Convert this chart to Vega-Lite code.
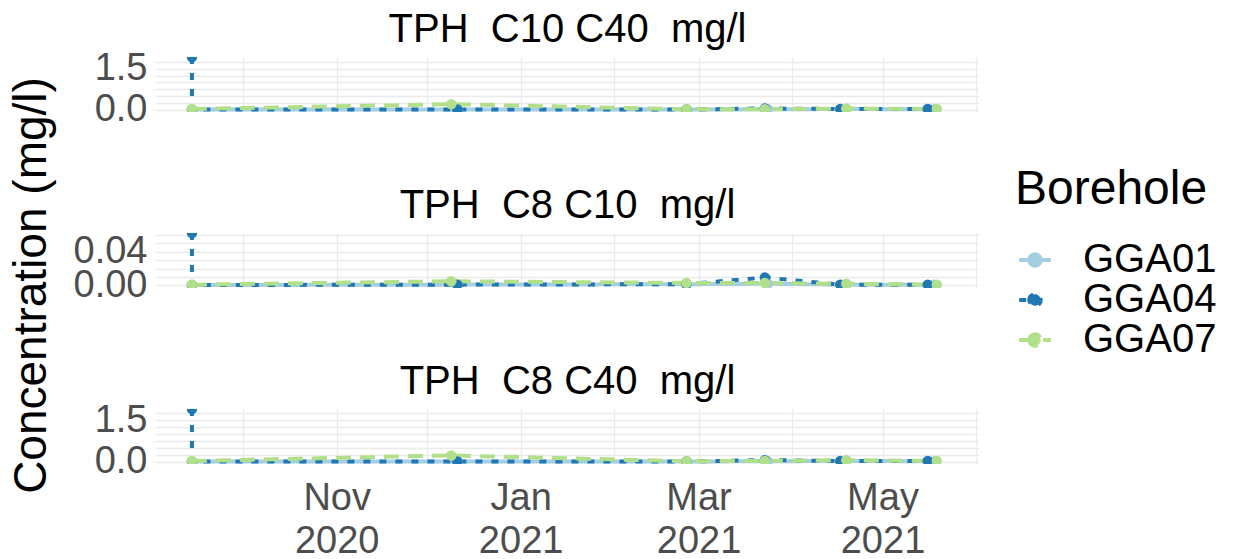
{
  "$schema": "https://vega.github.io/schema/vega-lite/v6.json",
  "padding": {"left": 7, "top": 9, "right": 0, "bottom": 0},
  "background": "white",
  "datasets": {
    "tph": [
      {"analyte": "TPH C10 C40 mg/l", "borehole": "GGA01", "date": "2020-09-14", "value": 0.0},
      {"analyte": "TPH C10 C40 mg/l", "borehole": "GGA01", "date": "2020-12-11", "value": 0.0},
      {"analyte": "TPH C10 C40 mg/l", "borehole": "GGA01", "date": "2021-02-25", "value": 0.0},
      {"analyte": "TPH C10 C40 mg/l", "borehole": "GGA01", "date": "2021-03-24", "value": 0.01},
      {"analyte": "TPH C10 C40 mg/l", "borehole": "GGA01", "date": "2021-04-19", "value": 0.02},
      {"analyte": "TPH C10 C40 mg/l", "borehole": "GGA01", "date": "2021-05-18", "value": 0.01},
      {"analyte": "TPH C10 C40 mg/l", "borehole": "GGA04", "date": "2020-09-14", "value": 1.94},
      {"analyte": "TPH C10 C40 mg/l", "borehole": "GGA04", "date": "2020-09-14", "value": 0.0},
      {"analyte": "TPH C10 C40 mg/l", "borehole": "GGA04", "date": "2020-12-11", "value": 0.0},
      {"analyte": "TPH C10 C40 mg/l", "borehole": "GGA04", "date": "2021-02-25", "value": 0.0},
      {"analyte": "TPH C10 C40 mg/l", "borehole": "GGA04", "date": "2021-03-23", "value": 0.04},
      {"analyte": "TPH C10 C40 mg/l", "borehole": "GGA04", "date": "2021-04-17", "value": 0.02},
      {"analyte": "TPH C10 C40 mg/l", "borehole": "GGA04", "date": "2021-05-16", "value": 0.02},
      {"analyte": "TPH C10 C40 mg/l", "borehole": "GGA07", "date": "2020-09-14", "value": 0.02},
      {"analyte": "TPH C10 C40 mg/l", "borehole": "GGA07", "date": "2020-12-09", "value": 0.2},
      {"analyte": "TPH C10 C40 mg/l", "borehole": "GGA07", "date": "2021-02-25", "value": 0.01},
      {"analyte": "TPH C10 C40 mg/l", "borehole": "GGA07", "date": "2021-03-23", "value": 0.01},
      {"analyte": "TPH C10 C40 mg/l", "borehole": "GGA07", "date": "2021-04-19", "value": 0.04},
      {"analyte": "TPH C10 C40 mg/l", "borehole": "GGA07", "date": "2021-05-19", "value": 0.02},

      {"analyte": "TPH C8 C10 mg/l", "borehole": "GGA01", "date": "2020-09-14", "value": 0.0005},
      {"analyte": "TPH C8 C10 mg/l", "borehole": "GGA01", "date": "2020-12-11", "value": 0.001},
      {"analyte": "TPH C8 C10 mg/l", "borehole": "GGA01", "date": "2021-02-25", "value": 0.0015},
      {"analyte": "TPH C8 C10 mg/l", "borehole": "GGA01", "date": "2021-03-24", "value": 0.002},
      {"analyte": "TPH C8 C10 mg/l", "borehole": "GGA01", "date": "2021-04-19", "value": 0.001},
      {"analyte": "TPH C8 C10 mg/l", "borehole": "GGA01", "date": "2021-05-18", "value": 0.001},
      {"analyte": "TPH C8 C10 mg/l", "borehole": "GGA04", "date": "2020-09-14", "value": 0.0624},
      {"analyte": "TPH C8 C10 mg/l", "borehole": "GGA04", "date": "2020-09-14", "value": 0.0005},
      {"analyte": "TPH C8 C10 mg/l", "borehole": "GGA04", "date": "2020-12-11", "value": 0.001},
      {"analyte": "TPH C8 C10 mg/l", "borehole": "GGA04", "date": "2021-02-25", "value": 0.0015},
      {"analyte": "TPH C8 C10 mg/l", "borehole": "GGA04", "date": "2021-03-23", "value": 0.0095},
      {"analyte": "TPH C8 C10 mg/l", "borehole": "GGA04", "date": "2021-04-17", "value": 0.001},
      {"analyte": "TPH C8 C10 mg/l", "borehole": "GGA04", "date": "2021-05-16", "value": 0.001},
      {"analyte": "TPH C8 C10 mg/l", "borehole": "GGA07", "date": "2020-09-14", "value": 0.001},
      {"analyte": "TPH C8 C10 mg/l", "borehole": "GGA07", "date": "2020-12-09", "value": 0.005},
      {"analyte": "TPH C8 C10 mg/l", "borehole": "GGA07", "date": "2021-02-25", "value": 0.003},
      {"analyte": "TPH C8 C10 mg/l", "borehole": "GGA07", "date": "2021-03-23", "value": 0.003},
      {"analyte": "TPH C8 C10 mg/l", "borehole": "GGA07", "date": "2021-04-19", "value": 0.002},
      {"analyte": "TPH C8 C10 mg/l", "borehole": "GGA07", "date": "2021-05-19", "value": 0.001},

      {"analyte": "TPH C8 C40 mg/l", "borehole": "GGA01", "date": "2020-09-14", "value": 0.0},
      {"analyte": "TPH C8 C40 mg/l", "borehole": "GGA01", "date": "2020-12-11", "value": 0.0},
      {"analyte": "TPH C8 C40 mg/l", "borehole": "GGA01", "date": "2021-02-25", "value": 0.0},
      {"analyte": "TPH C8 C40 mg/l", "borehole": "GGA01", "date": "2021-03-24", "value": 0.01},
      {"analyte": "TPH C8 C40 mg/l", "borehole": "GGA01", "date": "2021-04-19", "value": 0.02},
      {"analyte": "TPH C8 C40 mg/l", "borehole": "GGA01", "date": "2021-05-18", "value": 0.01},
      {"analyte": "TPH C8 C40 mg/l", "borehole": "GGA04", "date": "2020-09-14", "value": 1.9},
      {"analyte": "TPH C8 C40 mg/l", "borehole": "GGA04", "date": "2020-09-14", "value": 0.0},
      {"analyte": "TPH C8 C40 mg/l", "borehole": "GGA04", "date": "2020-12-11", "value": 0.0},
      {"analyte": "TPH C8 C40 mg/l", "borehole": "GGA04", "date": "2021-02-25", "value": 0.0},
      {"analyte": "TPH C8 C40 mg/l", "borehole": "GGA04", "date": "2021-03-23", "value": 0.05},
      {"analyte": "TPH C8 C40 mg/l", "borehole": "GGA04", "date": "2021-04-17", "value": 0.02},
      {"analyte": "TPH C8 C40 mg/l", "borehole": "GGA04", "date": "2021-05-16", "value": 0.02},
      {"analyte": "TPH C8 C40 mg/l", "borehole": "GGA07", "date": "2020-09-14", "value": 0.02},
      {"analyte": "TPH C8 C40 mg/l", "borehole": "GGA07", "date": "2020-12-09", "value": 0.22},
      {"analyte": "TPH C8 C40 mg/l", "borehole": "GGA07", "date": "2021-02-25", "value": 0.01},
      {"analyte": "TPH C8 C40 mg/l", "borehole": "GGA07", "date": "2021-03-23", "value": 0.02},
      {"analyte": "TPH C8 C40 mg/l", "borehole": "GGA07", "date": "2021-04-19", "value": 0.05},
      {"analyte": "TPH C8 C40 mg/l", "borehole": "GGA07", "date": "2021-05-19", "value": 0.02}
    ]
  },
  "config": {
    "font": "Liberation Sans",
    "view": {"stroke": null},
    "axis": {
      "domain": false,
      "ticks": false,
      "gridColor": "#EBEBEB",
      "gridWidth": 1.3,
      "labelColor": "#4D4D4D",
      "labelFont": "Liberation Sans",
      "labelFontSize": 38,
      "titleColor": "#000000",
      "titleFont": "Liberation Sans",
      "titleFontWeight": "normal",
      "labelOverlap": false,
      "labelFlush": false
    }
  },
  "spacing": 121,
  "bounds": "flush",
  "resolve": {"scale": {"y": "independent"}},
  "vconcat": [
    {
      "width": 824,
      "height": 55,
      "data": {"name": "tph"},
      "transform": [{"filter": "datum.analyte === 'TPH C10 C40 mg/l'"}],
      "encoding": {
        "x": {"field": "date", "type": "temporal", "scale": {"type": "utc", "domain": ["2020-09-01T18:00:00Z", "2021-06-02T00:00:00Z"]},
              "axis": {"orient": "top", "title": "TPH\u00a0\u00a0C10 C40\u00a0\u00a0mg/l", "titleFontSize": 40, "titleY": -16, "titleBaseline": "alphabetic",
                       "labels": false, "grid": true, "tickCount": {"interval": "month", "step": 1}}},
        "y": {"field": "value", "type": "quantitative", "scale": {"domain": [-0.09, 1.94], "nice": false, "zero": false},
              "axis": {"title": null, "values": [0, 0.25, 0.5, 0.75, 1, 1.25, 1.5, 1.75], "labelPadding": 8,
                       "labelExpr": "datum.value == 0 ? '0.0' : (datum.value == 1.5 ? '1.5' : '')"}},
        "color": {"field": "borehole", "type": "nominal",
                  "scale": {"domain": ["GGA01", "GGA04", "GGA07"], "range": ["#A6CEE3", "#1F78B4", "#B2DF8A"]},
                  "legend": {"orient": "none", "legendX": 860, "legendY": 109, "title": "Borehole", "titleLimit": 400,
                             "titleFontSize": 48, "titleFontWeight": "normal", "titleColor": "#000000", "titlePadding": 26,
                             "labelFontSize": 40, "labelColor": "#000000", "labelOffset": 28, "rowPadding": 0, "labelLimit": 300,
                             "symbolType": "M-1,0L1,0M-0.36,0A0.36,0.36,0,1,1,0.36,0A0.36,0.36,0,1,1,-0.36,0Z",
                             "symbolSize": 1000, "symbolStrokeWidth": 4}}
      },
      "layer": [
        {"mark": {"type": "line", "strokeWidth": 4, "clip": true},
         "encoding": {"strokeDash": {"field": "borehole", "type": "nominal",
                                     "scale": {"domain": ["GGA01", "GGA04", "GGA07"], "range": [[1, 0], [7, 9], [15, 9]]},
                                     "legend": null}}},
        {"mark": {"type": "point", "filled": true, "size": 110, "opacity": 1, "clip": true}}
      ]
    },
    {
      "width": 824,
      "height": 55,
      "data": {"name": "tph"},
      "transform": [{"filter": "datum.analyte === 'TPH C8 C10 mg/l'"}],
      "encoding": {
        "x": {"field": "date", "type": "temporal", "scale": {"type": "utc", "domain": ["2020-09-01T18:00:00Z", "2021-06-02T00:00:00Z"]},
              "axis": {"orient": "top", "title": "TPH\u00a0\u00a0C8 C10\u00a0\u00a0mg/l", "titleFontSize": 40, "titleY": -16, "titleBaseline": "alphabetic",
                       "labels": false, "grid": true, "tickCount": {"interval": "month", "step": 1}}},
        "y": {"field": "value", "type": "quantitative", "scale": {"domain": [-0.003, 0.0624], "nice": false, "zero": false},
              "axis": {"title": "Concentration (mg/l)", "titleFontSize": 46, "titleX": -124, "titleY": 52, "titleAngle": -90,
                       "titleBaseline": "middle", "titleAlign": "center",
                       "values": [0, 0.01, 0.02, 0.03, 0.04, 0.05, 0.06], "labelPadding": 8,
                       "labelExpr": "datum.value == 0 ? '0.00' : (abs(datum.value - 0.04) < 0.0001 ? '0.04' : '')"}},
        "color": {"field": "borehole", "type": "nominal",
                  "scale": {"domain": ["GGA01", "GGA04", "GGA07"], "range": ["#A6CEE3", "#1F78B4", "#B2DF8A"]},
                  "legend": {"orient": "none", "legendX": 860, "legendY": 109, "title": "Borehole", "titleLimit": 400,
                             "titleFontSize": 48, "titleFontWeight": "normal", "titleColor": "#000000", "titlePadding": 26,
                             "labelFontSize": 40, "labelColor": "#000000", "labelOffset": 28, "rowPadding": 0, "labelLimit": 300,
                             "symbolType": "M-1,0L1,0M-0.36,0A0.36,0.36,0,1,1,0.36,0A0.36,0.36,0,1,1,-0.36,0Z",
                             "symbolSize": 1000, "symbolStrokeWidth": 4}}
      },
      "layer": [
        {"mark": {"type": "line", "strokeWidth": 4, "clip": true},
         "encoding": {"strokeDash": {"field": "borehole", "type": "nominal",
                                     "scale": {"domain": ["GGA01", "GGA04", "GGA07"], "range": [[1, 0], [7, 9], [15, 9]]},
                                     "legend": null}}},
        {"mark": {"type": "point", "filled": true, "size": 110, "opacity": 1, "clip": true}}
      ]
    },
    {
      "width": 824,
      "height": 55,
      "data": {"name": "tph"},
      "transform": [{"filter": "datum.analyte === 'TPH C8 C40 mg/l'"}],
      "encoding": {
        "y": {"field": "value", "type": "quantitative", "scale": {"domain": [-0.09, 1.9], "nice": false, "zero": false},
              "axis": {"title": null, "values": [0, 0.25, 0.5, 0.75, 1, 1.25, 1.5, 1.75], "labelPadding": 8,
                       "labelExpr": "datum.value == 0 ? '0.0' : (datum.value == 1.5 ? '1.5' : '')"}},
        "color": {"field": "borehole", "type": "nominal",
                  "scale": {"domain": ["GGA01", "GGA04", "GGA07"], "range": ["#A6CEE3", "#1F78B4", "#B2DF8A"]},
                  "legend": {"orient": "none", "legendX": 860, "legendY": 109, "title": "Borehole", "titleLimit": 400,
                             "titleFontSize": 48, "titleFontWeight": "normal", "titleColor": "#000000", "titlePadding": 26,
                             "labelFontSize": 40, "labelColor": "#000000", "labelOffset": 28, "rowPadding": 0, "labelLimit": 300,
                             "symbolType": "M-1,0L1,0M-0.36,0A0.36,0.36,0,1,1,0.36,0A0.36,0.36,0,1,1,-0.36,0Z",
                             "symbolSize": 1000, "symbolStrokeWidth": 4}}
      },
      "layer": [
        {"mark": {"type": "line", "strokeWidth": 4, "clip": true},
         "encoding": {
           "x": {"field": "date", "type": "temporal", "scale": {"type": "utc", "domain": ["2020-09-01T18:00:00Z", "2021-06-02T00:00:00Z"]},
                 "axis": {"orient": "top", "title": "TPH\u00a0\u00a0C8 C40\u00a0\u00a0mg/l", "titleFontSize": 40, "titleY": -16, "titleBaseline": "alphabetic",
                          "labels": false, "grid": true, "tickCount": {"interval": "month", "step": 1}}},
           "strokeDash": {"field": "borehole", "type": "nominal",
                                     "scale": {"domain": ["GGA01", "GGA04", "GGA07"], "range": [[1, 0], [7, 9], [15, 9]]},
                                     "legend": null}}},
        {"mark": {"type": "point", "filled": true, "size": 110, "opacity": 1, "clip": true},
         "encoding": {
           "x": {"field": "date", "type": "temporal", "scale": {"type": "utc", "domain": ["2020-09-01T18:00:00Z", "2021-06-02T00:00:00Z"]},
                 "axis": {"orient": "bottom", "title": null, "grid": false, "tickCount": {"interval": "month", "step": 1},
                          "labelPadding": 15, "labelLineHeight": 43, "labelBaseline": "top",
                          "labelExpr": "utcmonth(datum.value) % 2 == 0 ? [utcFormat(datum.value, '%b'), utcFormat(datum.value, '%Y')] : ''"}}}}
      ],
      "resolve": {"axis": {"x": "independent"}}
    }
  ]
}
